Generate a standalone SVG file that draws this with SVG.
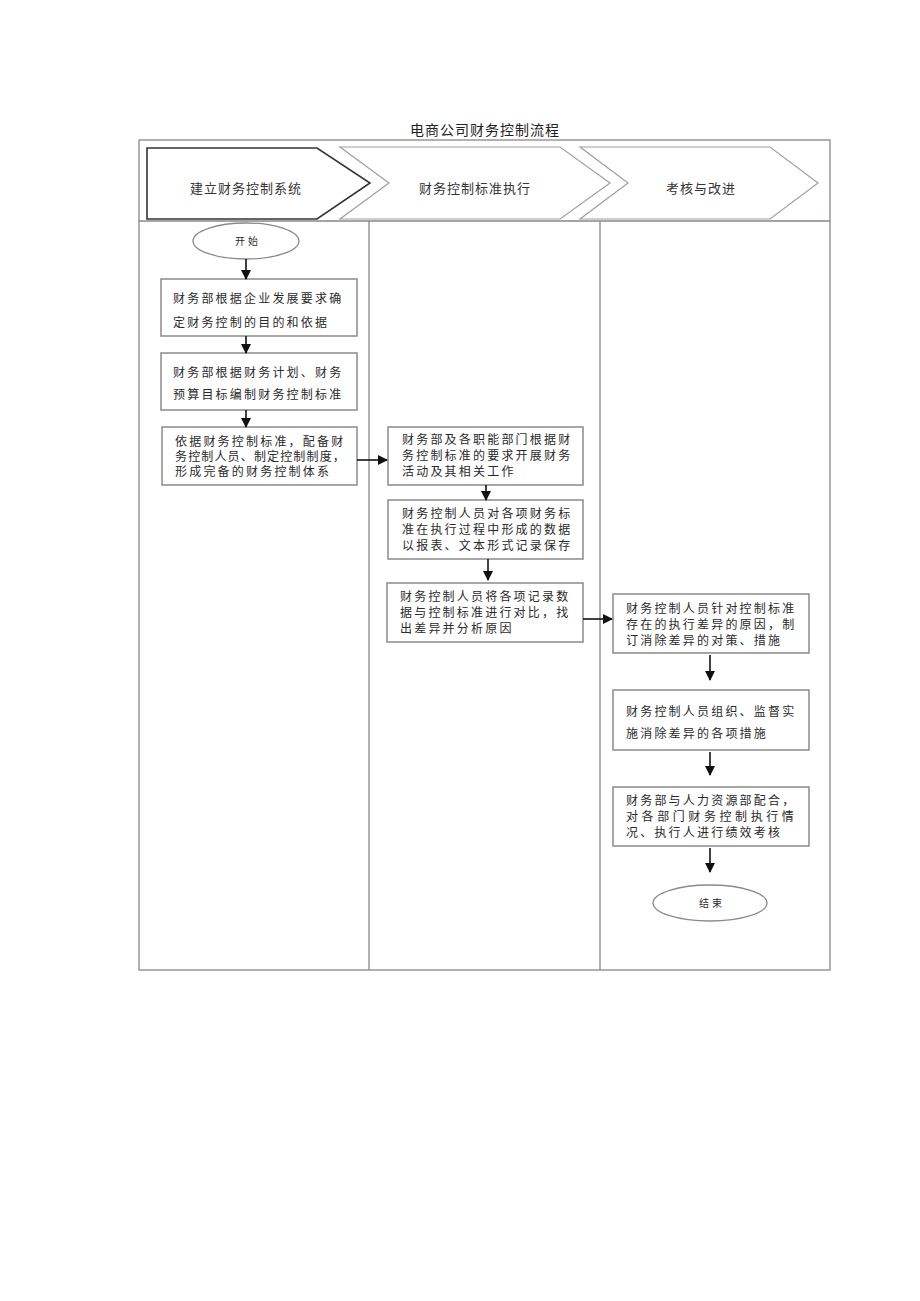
<svg xmlns="http://www.w3.org/2000/svg" width="920" height="1301" viewBox="0 0 920 1301">
<style>
text{font-family:"Noto Sans CJK SC","Noto Sans",sans-serif;fill:#2a2a2a}
.t{font-size:12px;letter-spacing:2.2px}
.h{font-size:13px;letter-spacing:1px;text-anchor:middle;fill:#333}
.title{font-size:14px;letter-spacing:1px;text-anchor:middle;fill:#222}
.e{font-size:10px;letter-spacing:3px;text-anchor:middle}
.box{fill:#fff;stroke:#8a8a8a;stroke-width:1.5}
.frame{fill:none;stroke:#8a848a;stroke-width:1.3}
.chev{fill:#fff;stroke:#a0a0a0;stroke-width:1.2}
.chev1{fill:#fff;stroke:#333;stroke-width:1.6}
.ell{fill:#fff;stroke:#8a8a8a;stroke-width:1.3}
.con{stroke:#111;stroke-width:1.6;fill:none;marker-end:url(#ah)}
</style>
<defs>
<marker id="ah" markerUnits="userSpaceOnUse" markerWidth="10" markerHeight="10" refX="9" refY="5" orient="auto">
<path d="M0,0 L10,5 L0,10 Z" fill="#111"/>
</marker>
</defs>
<rect width="920" height="1301" fill="#fff"/>
<text class="title" x="485" y="135">电商公司财务控制流程</text>
<g id="frame">
<rect class="frame" x="139" y="140" width="691" height="830"/>
<line class="frame" x1="139" y1="221" x2="830" y2="221"/>
<line class="frame" x1="369" y1="221" x2="369" y2="970"/>
<line class="frame" x1="600" y1="221" x2="600" y2="970"/>
</g>
<g id="header">
<g id="phase1">
<polygon class="chev1" points="147,148 317,148 370,183 317,219 147,219"/>
<text class="h" x="246" y="193">建立财务控制系统</text>
</g>
<g id="phase2">
<polygon class="chev" points="340,147 560,147 610,183 560,219 340,219 389,183"/>
<text class="h" x="475" y="193">财务控制标准执行</text>
</g>
<g id="phase3">
<polygon class="chev" points="580,147 770,147 818,183 770,219 580,219 628,183"/>
<text class="h" x="701" y="193">考核与改进</text>
</g>
</g>
<g id="start">
<ellipse class="ell" cx="246" cy="241" rx="53" ry="18"/>
<text class="e" x="248" y="245">开始</text>
</g>
<g id="n1">
<rect class="box" x="161" y="279" width="196" height="57"/>
<text class="t" x="173" y="303">财务部根据企业发展要求确</text>
<text class="t" x="173" y="327">定财务控制的目的和依据</text>
</g>
<g id="n2">
<rect class="box" x="161" y="353" width="196" height="57"/>
<text class="t" x="173" y="377">财务部根据财务计划、财务</text>
<text class="t" x="173" y="399">预算目标编制财务控制标准</text>
</g>
<g id="n3">
<rect class="box" x="162" y="427" width="195" height="58"/>
<text class="t" x="175" y="446">依据财务控制标准，配备财</text>
<text class="t" x="175" y="461" textLength="172" lengthAdjust="spacing">务控制人员、制定控制制度，</text>
<text class="t" x="175" y="476">形成完备的财务控制体系</text>
</g>
<g id="n4">
<rect class="box" x="388" y="427" width="195" height="58"/>
<text class="t" x="402" y="444">财务部及各职能部门根据财</text>
<text class="t" x="402" y="460">务控制标准的要求开展财务</text>
<text class="t" x="402" y="476">活动及其相关工作</text>
</g>
<g id="n5">
<rect class="box" x="388" y="500" width="195" height="59"/>
<text class="t" x="402" y="518">财务控制人员对各项财务标</text>
<text class="t" x="402" y="534">准在执行过程中形成的数据</text>
<text class="t" x="402" y="550">以报表、文本形式记录保存</text>
</g>
<g id="n6">
<rect class="box" x="387" y="583" width="196" height="59"/>
<text class="t" x="400" y="601">财务控制人员将各项记录数</text>
<text class="t" x="400" y="617">据与控制标准进行对比，找</text>
<text class="t" x="400" y="633">出差异并分析原因</text>
</g>
<g id="n7">
<rect class="box" x="613" y="594" width="196" height="59"/>
<text class="t" x="626" y="613">财务控制人员针对控制标准</text>
<text class="t" x="626" y="629">存在的执行差异的原因，制</text>
<text class="t" x="626" y="645">订消除差异的对策、措施</text>
</g>
<g id="n8">
<rect class="box" x="613" y="690" width="196" height="60"/>
<text class="t" x="626" y="716">财务控制人员组织、监督实</text>
<text class="t" x="626" y="738">施消除差异的各项措施</text>
</g>
<g id="n9">
<rect class="box" x="613" y="787" width="196" height="59"/>
<text class="t" x="626" y="805">财务部与人力资源部配合，</text>
<text class="t" x="626" y="821" textLength="170" lengthAdjust="spacing">对各部门财务控制执行情</text>
<text class="t" x="626" y="837">况、执行人进行绩效考核</text>
</g>
<g id="end">
<ellipse class="ell" cx="710" cy="903" rx="57" ry="18"/>
<text class="e" x="712" y="907">结束</text>
</g>
<g id="connectors">
<line class="con" x1="246" y1="259" x2="246" y2="279"/>
<line class="con" x1="246" y1="336" x2="246" y2="353"/>
<line class="con" x1="246" y1="410" x2="246" y2="427"/>
<line class="con" x1="357" y1="460" x2="387" y2="460"/>
<line class="con" x1="486" y1="485" x2="486" y2="500"/>
<line class="con" x1="488" y1="559" x2="488" y2="580"/>
<line class="con" x1="583" y1="619" x2="612" y2="619"/>
<line class="con" x1="710" y1="655" x2="710" y2="680"/>
<line class="con" x1="710" y1="752" x2="710" y2="775"/>
<line class="con" x1="710" y1="848" x2="710" y2="872"/>
</g>
</svg>
